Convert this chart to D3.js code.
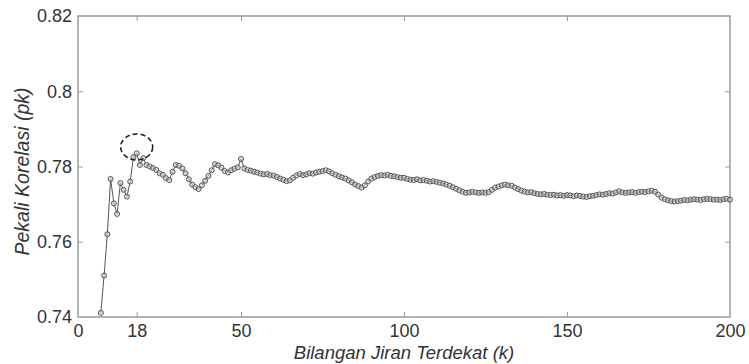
<!DOCTYPE html>
<html>
<head>
<meta charset="utf-8">
<script src="https://cdn.jsdelivr.net/npm/d3@7"></script>
<style>
  html, body { margin: 0; padding: 0; background: #fff; }
  svg { display: block; }
  text { font-family: "Liberation Sans", Arial, sans-serif; fill: #333; }
</style>
</head>
<body>
<script>
// ---------- data ----------
const kStart = 7;
const pkValues = [
  0.7411, 0.7510, 0.7620, 0.7767, 0.7702, 0.7674, 0.7756, 0.7738, 0.7720, 0.7760,   // k 7-16
  0.7825, 0.7835, 0.7804, 0.7822, 0.7804, 0.7800, 0.7796, 0.7791, 0.7782, 0.7778,   // 17-26
  0.7769, 0.7764, 0.7786, 0.7804, 0.7802, 0.7795, 0.7782, 0.7766, 0.7752, 0.7745,   // 27-36
  0.7740, 0.7750, 0.7762, 0.7775, 0.7790, 0.7806, 0.7803, 0.7797, 0.7788, 0.7784,   // 37-46
  0.7790, 0.7794, 0.7798, 0.7820, 0.7795, 0.7791, 0.7789, 0.7786, 0.7784, 0.7781,   // 47-56
  0.7779, 0.7780, 0.7777, 0.7776, 0.7772, 0.7768, 0.7765, 0.7761, 0.7763, 0.7770,   // 57-66
  0.7776, 0.7780, 0.7777, 0.7779, 0.7782, 0.7781, 0.7784, 0.7786, 0.7788, 0.7790,   // 67-76
  0.7787, 0.7782, 0.7778, 0.7774, 0.7771, 0.7768, 0.7763, 0.7758, 0.7752, 0.7748,   // 77-86
  0.7744, 0.7750, 0.7760, 0.7768, 0.7772, 0.7775, 0.7777, 0.7776, 0.7778, 0.7775,   // 87-96
  0.7774, 0.7772, 0.7770, 0.7770, 0.7767, 0.7765, 0.7764, 0.7766, 0.7763, 0.7764,   // 97-106
  0.7762, 0.7760, 0.7761, 0.7759, 0.7757, 0.7755, 0.7752, 0.7749, 0.7745, 0.7741,   // 107-116
  0.7737, 0.7733, 0.7730, 0.7731, 0.7733, 0.7731, 0.7730, 0.7731, 0.7730, 0.7732,   // 117-126
  0.7738, 0.7744, 0.7747, 0.7750, 0.7752, 0.7750, 0.7749, 0.7744, 0.7740, 0.7736,   // 127-136
  0.7733, 0.7731, 0.7732, 0.7729, 0.7727, 0.7726, 0.7727, 0.7725, 0.7724, 0.7725,   // 137-146
  0.7723, 0.7724, 0.7722, 0.7724, 0.7723, 0.7721, 0.7723, 0.7722, 0.7720, 0.7719,   // 147-156
  0.7721, 0.7722, 0.7724, 0.7726, 0.7725, 0.7727, 0.7729, 0.7728, 0.7731, 0.7734,   // 157-166
  0.7731, 0.7730, 0.7731, 0.7732, 0.7730, 0.7732, 0.7733, 0.7732, 0.7734, 0.7736,   // 167-176
  0.7733, 0.7725, 0.7717, 0.7713, 0.7710, 0.7708, 0.7707, 0.7708, 0.7709, 0.7711,   // 177-186
  0.7710, 0.7712, 0.7713, 0.7712, 0.7711, 0.7713, 0.7714, 0.7713, 0.7712, 0.7712,   // 187-196
  0.7711, 0.7713, 0.7714, 0.7712                                                   // 197-200
];
const kValues = pkValues.map((_, i) => kStart + i);
const xTicks = [0, 18, 50, 100, 150, 200];
const yTicks = [0.74, 0.76, 0.78, 0.80, 0.82];
const yTickLabels = ["0.74", "0.76", "0.78", "0.8", "0.82"];
const highlightK = 18;
const highlightPk = 0.7852;
const xTitle = "Bilangan Jiran Terdekat (k)";
const yTitle = "Pekali Korelasi (pk)";

// ---------- layout ----------
const W = 749, H = 364;
const m = { left: 78, right: 19, top: 16, bottom: 47 };
const iw = W - m.left - m.right, ih = H - m.top - m.bottom;

const svg = d3.select("body").append("svg").attr("width", W).attr("height", H);
const g = svg.append("g").attr("transform", `translate(${m.left},${m.top})`);

const x = d3.scaleLinear().domain([0, 200]).range([0, iw]);
const y = d3.scaleLinear().domain([0.74, 0.82]).range([ih, 0]);

const axisColor = "#9a9a9a";
const tickLen = 5;

// axes (ticks inward) on all four sides
const xb = g.append("g").attr("transform", `translate(0,${ih})`)
  .call(d3.axisBottom(x).tickValues(xTicks).tickSizeInner(-tickLen).tickSizeOuter(0).tickPadding(7));
const xt = g.append("g")
  .call(d3.axisTop(x).tickValues(xTicks).tickSizeInner(-tickLen).tickSizeOuter(0).tickFormat(""));
const yl = g.append("g")
  .call(d3.axisLeft(y).tickValues(yTicks).tickSizeInner(-tickLen).tickSizeOuter(0).tickPadding(6)
    .tickFormat((d, i) => yTickLabels[i]));
const yr = g.append("g").attr("transform", `translate(${iw},0)`)
  .call(d3.axisRight(y).tickValues(yTicks).tickSizeInner(-tickLen).tickSizeOuter(0).tickFormat(""));

[xb, xt, yl, yr].forEach(a => {
  a.select(".domain").remove();
  a.selectAll(".tick line").attr("stroke", axisColor).attr("stroke-width", 1);
  a.selectAll(".tick text").attr("font-size", 18).attr("fill", "#2e2e2e")
    .attr("font-family", '"Liberation Sans", Arial, sans-serif');
});
// hide end ticks touching frame corners
xb.selectAll(".tick").filter(d => d === 0 || d === 200).select("line").remove();
xt.selectAll(".tick").filter(d => d === 0 || d === 200).select("line").remove();
yl.selectAll(".tick").filter(d => d === 0.74 || d === 0.82).select("line").remove();
yr.selectAll(".tick").filter(d => d === 0.74 || d === 0.82).select("line").remove();

// frame
g.append("rect").attr("x", 0).attr("y", 0).attr("width", iw).attr("height", ih)
  .attr("fill", "none").attr("stroke", axisColor).attr("stroke-width", 1.5);

const data = kValues.map((k, i) => ({ k, v: pkValues[i] }));

// line
g.append("path").datum(data)
  .attr("fill", "none").attr("stroke", "#555").attr("stroke-width", 1)
  .attr("d", d3.line().x(d => x(d.k)).y(d => y(d.v)));

// markers
g.append("g").selectAll("circle").data(data).join("circle")
  .attr("cx", d => x(d.k)).attr("cy", d => y(d.v)).attr("r", 2.5)
  .attr("fill", "#cfcfcf").attr("fill-opacity", 0.6)
  .attr("stroke", "#555").attr("stroke-width", 1);

// dashed highlight ellipse
g.append("ellipse")
  .attr("cx", x(highlightK)).attr("cy", y(highlightPk))
  .attr("rx", 16).attr("ry", 13)
  .attr("fill", "none").attr("stroke", "#222").attr("stroke-width", 1.6)
  .attr("stroke-dasharray", "5,3");

// titles
svg.append("text")
  .attr("x", m.left + iw / 2).attr("y", 359)
  .attr("text-anchor", "middle").attr("font-size", 18.5).attr("font-style", "italic")
  .text(xTitle);
svg.append("text")
  .attr("transform", `translate(29,${m.top + ih / 2 + 5}) rotate(-90)`)
  .attr("text-anchor", "middle").attr("font-size", 19.5).attr("font-style", "italic")
  .text(yTitle);
</script>
</body>
</html>
